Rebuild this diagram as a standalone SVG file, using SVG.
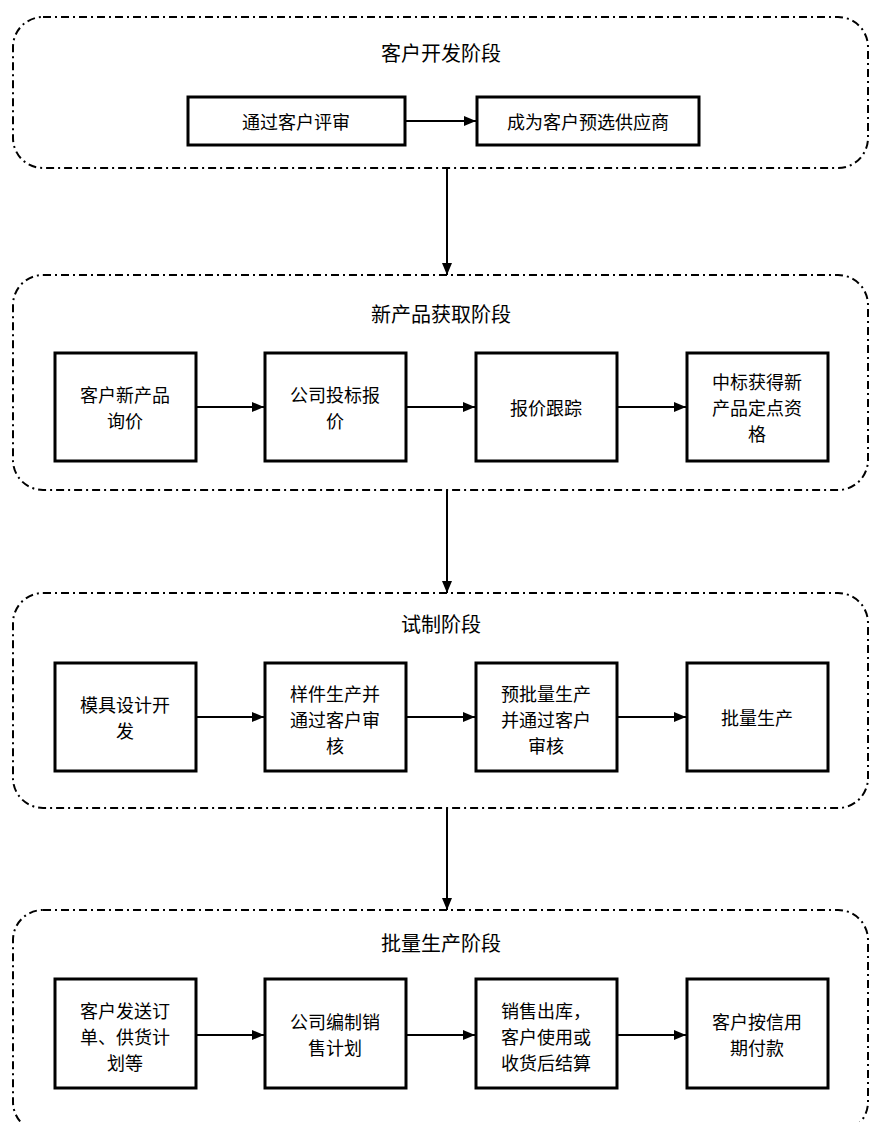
<svg xmlns="http://www.w3.org/2000/svg" width="872" height="1122" viewBox="0 0 872 1122">
<defs>
<marker id="ah" markerWidth="12" markerHeight="10" refX="12" refY="5" orient="auto" markerUnits="userSpaceOnUse">
<path d="M0,0 L12,5 L0,10 Z" fill="#000"/>
</marker>
<style>
.grp{fill:none;stroke:#000;stroke-width:2;stroke-dasharray:8 4 2 4}
.box{fill:#fff;stroke:#000;stroke-width:3}
.t{font-family:"Noto Sans CJK SC","Liberation Serif",serif;font-size:18px;fill:#000;text-anchor:middle;dominant-baseline:central}
.h{font-size:20px}
.c{fill:none;stroke:#000;stroke-width:2;marker-end:url(#ah)}
</style>
</defs>
<rect width="872" height="1122" fill="#fff"/>

<g id="stage1">
<rect class="grp" x="13" y="17" width="855" height="151" rx="30" ry="30"/>
<text class="t h" x="441" y="52">客户开发阶段</text>
</g>
<g id="stage2">
<rect class="grp" x="13" y="275" width="855" height="215" rx="30" ry="30"/>
<text class="t h" x="441" y="313">新产品获取阶段</text>
</g>
<g id="stage3">
<rect class="grp" x="13" y="593" width="855" height="215" rx="30" ry="30"/>
<text class="t h" x="441" y="623">试制阶段</text>
</g>
<g id="stage4">
<rect class="grp" x="13" y="910" width="855" height="222" rx="30" ry="30"/>
<text class="t h" x="441" y="942">批量生产阶段</text>
</g>

<g id="n1a"><rect class="box" x="188" y="97" width="217" height="48"/><text class="t" x="296" y="121">通过客户评审</text></g>
<g id="n1b"><rect class="box" x="477" y="97" width="222" height="48"/><text class="t" x="588" y="121">成为客户预选供应商</text></g>

<g id="n2a"><rect class="box" x="55" y="353" width="141" height="108"/><text class="t" x="125" y="394">客户新产品</text><text class="t" x="125" y="420">询价</text></g>
<g id="n2b"><rect class="box" x="265" y="353" width="141" height="108"/><text class="t" x="335" y="394">公司投标报</text><text class="t" x="335" y="420">价</text></g>
<g id="n2c"><rect class="box" x="476" y="353" width="141" height="108"/><text class="t" x="546" y="407">报价跟踪</text></g>
<g id="n2d"><rect class="box" x="687" y="353" width="141" height="108"/><text class="t" x="757" y="381">中标获得新</text><text class="t" x="757" y="407">产品定点资</text><text class="t" x="757" y="433">格</text></g>

<g id="n3a"><rect class="box" x="55" y="663" width="141" height="108"/><text class="t" x="125" y="704">模具设计开</text><text class="t" x="125" y="730">发</text></g>
<g id="n3b"><rect class="box" x="265" y="663" width="141" height="108"/><text class="t" x="335" y="693">样件生产并</text><text class="t" x="335" y="719">通过客户审</text><text class="t" x="335" y="745">核</text></g>
<g id="n3c"><rect class="box" x="476" y="663" width="141" height="108"/><text class="t" x="546" y="693">预批量生产</text><text class="t" x="546" y="719">并通过客户</text><text class="t" x="546" y="745">审核</text></g>
<g id="n3d"><rect class="box" x="687" y="663" width="141" height="108"/><text class="t" x="757" y="717">批量生产</text></g>

<g id="n4a"><rect class="box" x="55" y="979" width="141" height="109"/><text class="t" x="125" y="1010">客户发送订</text><text class="t" x="125" y="1036">单、供货计</text><text class="t" x="125" y="1062">划等</text></g>
<g id="n4b"><rect class="box" x="265" y="979" width="141" height="109"/><text class="t" x="335" y="1021">公司编制销</text><text class="t" x="335" y="1047">售计划</text></g>
<g id="n4c"><rect class="box" x="476" y="979" width="141" height="109"/><text class="t" x="546" y="1010">销售出库，</text><text class="t" x="546" y="1036">客户使用或</text><text class="t" x="546" y="1062">收货后结算</text></g>
<g id="n4d"><rect class="box" x="687" y="979" width="141" height="109"/><text class="t" x="757" y="1021">客户按信用</text><text class="t" x="757" y="1047">期付款</text></g>

<g id="connectors">
<line class="c" x1="405" y1="121" x2="476" y2="121"/>
<line class="c" x1="447" y1="168" x2="447" y2="275"/>
<line class="c" x1="196" y1="407" x2="264" y2="407"/>
<line class="c" x1="406" y1="407" x2="475" y2="407"/>
<line class="c" x1="617" y1="407" x2="686" y2="407"/>
<line class="c" x1="447" y1="490" x2="447" y2="593"/>
<line class="c" x1="196" y1="717" x2="264" y2="717"/>
<line class="c" x1="406" y1="717" x2="475" y2="717"/>
<line class="c" x1="617" y1="717" x2="686" y2="717"/>
<line class="c" x1="447" y1="808" x2="447" y2="910"/>
<line class="c" x1="196" y1="1035" x2="264" y2="1035"/>
<line class="c" x1="406" y1="1035" x2="475" y2="1035"/>
<line class="c" x1="617" y1="1035" x2="686" y2="1035"/>
</g>
</svg>
